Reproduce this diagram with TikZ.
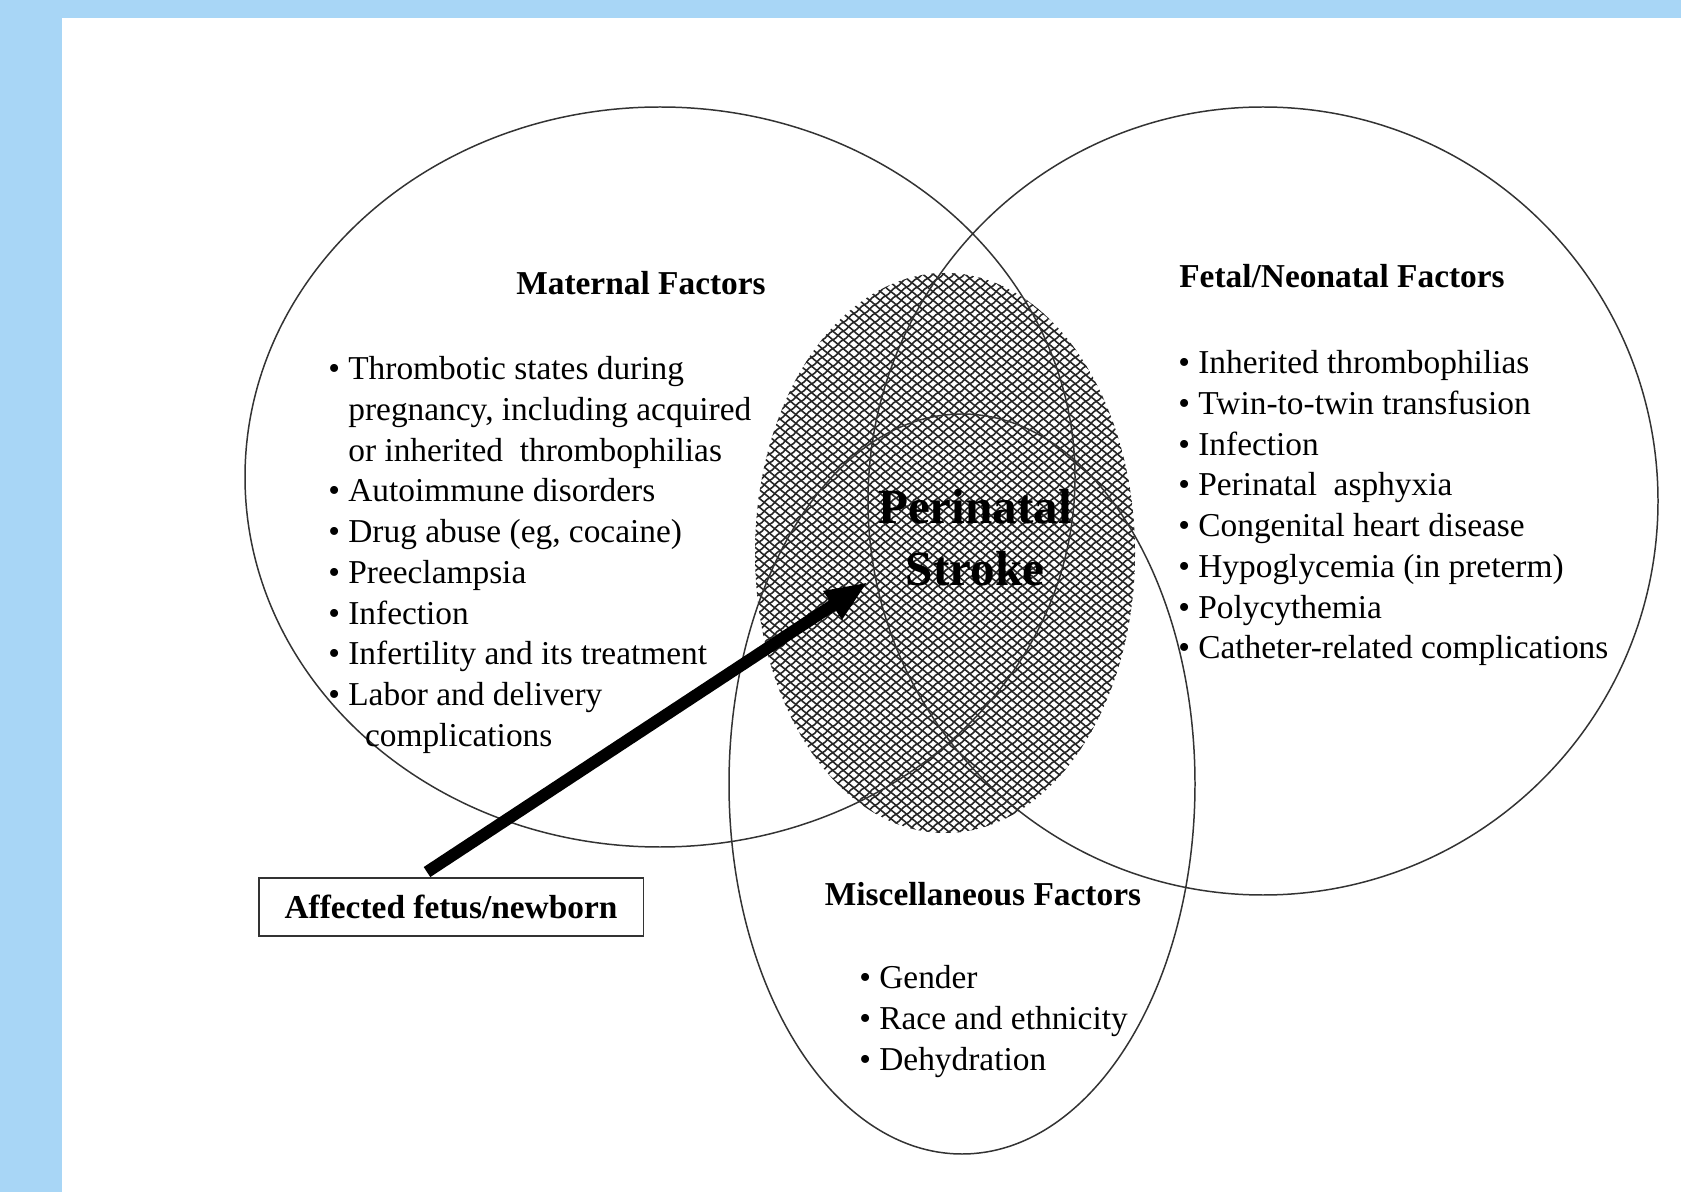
\documentclass[tikz,border=0pt]{standalone}
\usepackage{fontspec}
\setmainfont{Liberation Serif}
\usetikzlibrary{arrows.meta,patterns.meta}
\definecolor{slideblue}{RGB}{168,214,246}
\tikzdeclarepattern{
  name=scales, type=uncolored,
  bounding box={(-1pt,-1pt) and (7pt,6pt)},
  tile size={(6pt,5pt)},
  code={
    \draw[line width=0.9pt] (0pt,0pt) .. controls (2.2pt,0.6pt) and (3.8pt,4.4pt) .. (6pt,5pt);
    \draw[line width=0.9pt] (0pt,5pt) .. controls (1.6pt,3.3pt) and (4.4pt,1.7pt) .. (6pt,0pt);
  }
}
\newcommand\bul{\makebox[0.6em][l]{\textbullet}}
\newcommand\ind{\hspace*{0.6em}}

\begin{document}
\begin{tikzpicture}[x=0.02cm,y=-0.02cm,
  ring/.style={draw=black!80,line width=0.85pt},
  head/.style={font=\fontsize{19}{23}\selectfont\bfseries,inner sep=0pt,anchor=base},
  list/.style={font=\fontsize{19}{23.2}\selectfont,align=left,inner sep=0pt,anchor=north west},
  fetusbox/.style={draw=black!80,line width=1.1pt,minimum width=7.7cm,minimum height=1.16cm,
    font=\fontsize{19}{23}\selectfont\bfseries}]
\useasboundingbox (0,0) rectangle (1681,1192);
\fill[slideblue] (0,0) rectangle (1681,1192);
\fill[white] (62,18) rectangle (1681,1192);
% overlap
\fill[pattern=scales,pattern color=black!85] (945,553) ellipse (190 and 280);
% outline
\draw[ring] (660,477) ellipse (415 and 370)
            (1263,501) ellipse (395 and 394)
            (962,784) ellipse (233 and 370);
\node[head] (mathead) at (641,295) {Maternal Factors};
\node[head] (fethead) at (1342,288) {Fetal/Neonatal Factors};
\node[head] (mischead) at (983,905) {Miscellaneous Factors};
\node[list] (matlist) at (328,356) {\bul Thrombotic states during\\
  \ind pregnancy, including acquired\\
  \ind or inherited\ \ thrombophilias\\
  \bul Autoimmune disorders\\
  \bul Drug abuse (eg, cocaine)\\
  \bul Preeclampsia\\
  \bul Infection\\
  \bul Infertility and its treatment\\
  \bul Labor and delivery\\
  \ind\hspace*{0.5em}complications};
\node[list] (fetlist) at (1178,350) {\bul Inherited thrombophilias\\
  \bul Twin-to-twin transfusion\\
  \bul Infection\\
  \bul Perinatal\ \ asphyxia\\
  \bul Congenital heart disease\\
  \bul Hypoglycemia (in preterm)\\
  \bul Polycythemia\\
  \bul Catheter-related complications};
\node[list] (misclist) at (859,965) {\bul Gender\\
  \bul Race and ethnicity\\
  \bul Dehydration};
\node[font=\fontsize{28}{35.3}\selectfont\bfseries,align=center,inner sep=0pt] (stroke) at (975,538) {Perinatal\\Stroke};
\node[fetusbox] (affected) at (451,907) {Affected\ fetus/newborn};
\coordinate (tip) at (868,582);
\draw[line width=0.24cm,-{Triangle[length=0.85cm,width=0.62cm]}] ([xshift=-0.48cm,yshift=0.1cm]affected.north) -- (tip);
\end{tikzpicture}
\end{document}
